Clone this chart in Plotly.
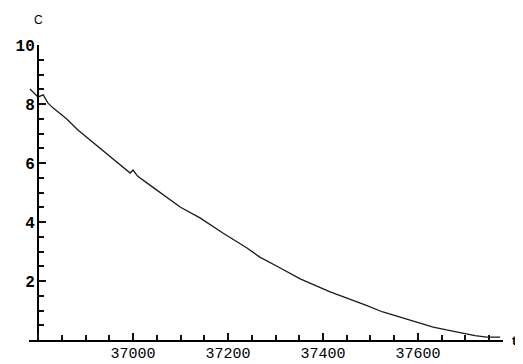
import plotly.graph_objects as go

t_vals = [36783, 36800, 36811, 36821, 36832, 36860, 36884, 36924, 36950, 36973,
          36994, 37000, 37010, 37040, 37072, 37100, 37141, 37190, 37240, 37267,
          37310, 37352, 37415, 37451, 37490, 37526, 37568, 37600, 37632, 37660,
          37688, 37720, 37745, 37773]
c_vals = [8.51, 8.24, 8.31, 8.03, 7.86, 7.50, 7.12, 6.60, 6.25, 5.95,
          5.66, 5.76, 5.55, 5.20, 4.81, 4.50, 4.14, 3.62, 3.12, 2.81,
          2.44, 2.07, 1.63, 1.42, 1.18, 0.95, 0.75, 0.60, 0.44, 0.34,
          0.24, 0.15, 0.10, 0.10]
x_tick_step = 200
y_tick_step = 2

x_min, x_max = 36781, 37779
x_origin = 36800
ypos = (x_origin - x_min) / (x_max - x_min)

fig = go.Figure()
fig.add_trace(go.Scatter(x=t_vals, y=c_vals, mode="lines",
                         line=dict(color="#1a1a1a", width=1.3),
                         showlegend=False, hoverinfo="skip"))

fig.update_layout(
    width=515, height=356,
    margin=dict(l=21, r=20, t=37, b=24, autoexpand=False),
    paper_bgcolor="white", plot_bgcolor="white",
    xaxis=dict(range=[x_min, x_max], showgrid=False, zeroline=False,
               automargin=False,
               showline=True, linecolor="black", linewidth=2,
               tickmode="linear", tick0=37000, dtick=x_tick_step,
               tickformat="d", labelalias={"36800": ""},
               ticks="inside", ticklen=7, tickwidth=2, tickcolor="#111111",
               ticklabelstandoff=-2,
               minor=dict(tickmode="linear", tick0=37000, dtick=50,
                          ticks="inside", ticklen=5, tickwidth=1.5, tickcolor="#111111"),
               tickfont=dict(family="Liberation Mono", size=15, color="black")),
    yaxis=dict(range=[0, 10], showgrid=False, zeroline=False,
               automargin=False,
               anchor="free", position=ypos,
               showline=True, linecolor="black", linewidth=2,
               tickmode="linear", tick0=0, dtick=y_tick_step,
               labelalias={"0": ""},
               ticks="inside", ticklen=7, tickwidth=2, tickcolor="#111111",
               ticklabelstandoff=-1,
               minor=dict(tickmode="linear", tick0=0, dtick=0.5,
                          ticks="inside", ticklen=5, tickwidth=1.5, tickcolor="#111111"),
               tickfont=dict(family="Liberation Mono", size=16, color="black",
                             weight="bold")),
    annotations=[
        dict(text="C", x=ypos, y=1, xref="paper", yref="paper",
             xanchor="center", yanchor="bottom", yshift=16, showarrow=False,
             font=dict(family="Liberation Sans", size=12, color="black")),
        dict(text="t", x=x_max, y=0, xref="x", yref="y",
             xanchor="left", yanchor="middle", xshift=7, showarrow=False,
             font=dict(family="Liberation Sans", size=13, color="black",
                       weight="bold")),
    ],
)

fig.write_html("out.html")
